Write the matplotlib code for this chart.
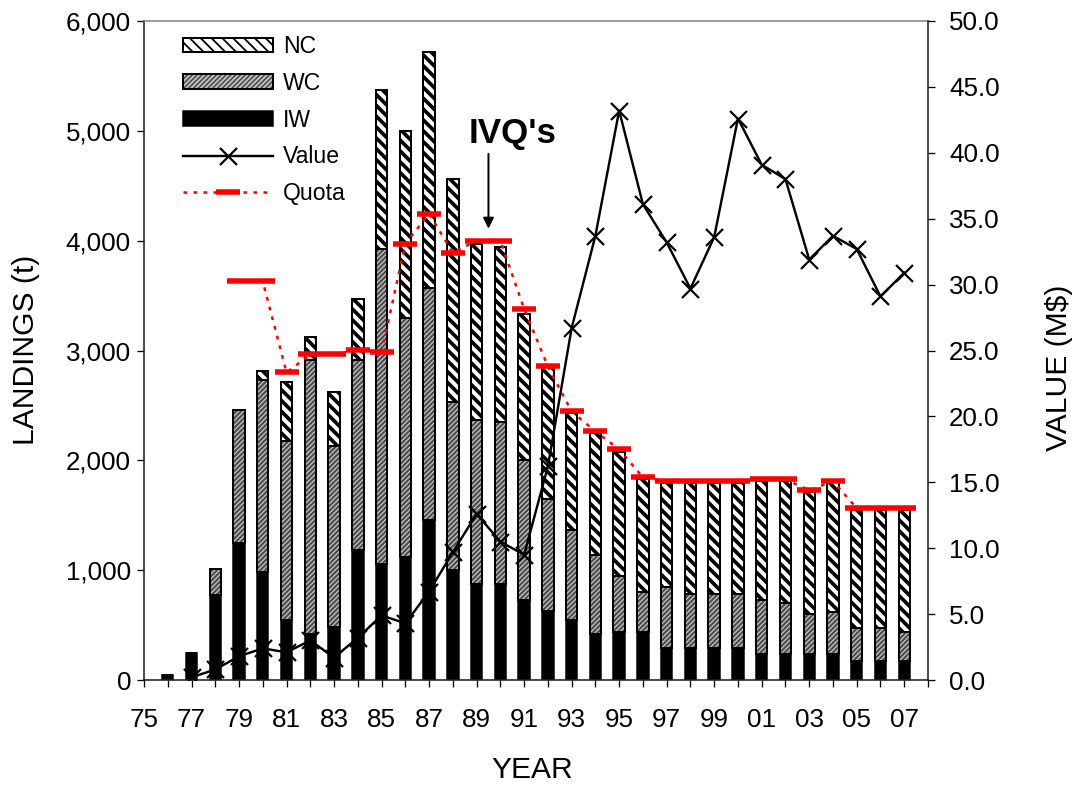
import matplotlib
matplotlib.use("Agg")
import matplotlib.pyplot as plt
from matplotlib.legend_handler import HandlerTuple
from matplotlib.ticker import FuncFormatter
import numpy as np

DPI = 130


def pt(px):
    # pixel size -> points at this dpi
    return px * 72.0 / DPI


plt.rcParams['font.family'] = ['Liberation Sans', 'DejaVu Sans']

# landings by fishery (t), 1976-2007
years = np.arange(76, 108)
iw = [45, 250, 770, 1245, 980, 545, 420, 480, 1180, 1060, 1120, 1455, 1000, 873, 873, 727,
      627, 545, 418, 436, 436, 291, 291, 291, 291, 236, 236, 236, 236, 173, 173, 173]
wc = [0, 0, 240, 1215, 1747, 1635, 2490, 1650, 1730, 2865, 2180, 2115, 1535, 1497, 1472, 1273,
      1018, 819, 718, 509, 364, 554, 491, 491, 491, 491, 464, 364, 382, 300, 300, 263]
nc = [0, 0, 0, 0, 83, 530, 210, 490, 560, 1445, 1700, 2150, 2025, 1600, 1600, 1335,
      1215, 1066, 1109, 1128, 1027, 945, 1008, 1008, 1008, 1083, 1110, 1110, 1182, 1072, 1072, 1109]

# quota (t), 1979-2007
quota_years = np.arange(79, 108)
quota = [3630, 3630, 2800, 2964, 2964, 3009, 2982, 3973, 4245, 3890, 4000, 4000, 3380, 2855, 2445,
         2264, 2100, 1845, 1810, 1810, 1810, 1810, 1827, 1827, 1727, 1810, 1564, 1564, 1564]

# value (M$), 1977-2007
value_years = np.arange(77, 108)
value = [0.2, 0.8, 1.8, 2.4, 2.1, 3.0, 1.7, 3.2, 4.9, 4.3, 6.7, 9.7, 12.6, 10.5, 9.5, 16.2,
         26.7, 33.7, 43.2, 36.1, 33.2, 29.7, 33.6, 42.6, 39.1, 38.0, 31.9, 33.7, 32.7, 29.1, 30.9]

fig = plt.figure(figsize=(1078 / DPI, 789 / DPI), dpi=DPI)
ax1 = fig.add_axes([144 / 1078, 1 - 680 / 789, (928 - 144) / 1078, (680 - 21) / 789])
ax2 = ax1.twinx()

w = 0.48
iw_a = np.array(iw)
wc_a = np.array(wc)
nc_bottom = iw_a + wc_a

b_iw = ax1.bar(years, iw, w, color='black', edgecolor='black', linewidth=pt(1.5), zorder=2)
with plt.rc_context({'hatch.color': '#c4c4c4', 'hatch.linewidth': pt(1.3)}):
    b_wc = ax1.bar(years, wc, w, bottom=iw, color='#4a4a4a', linewidth=0,
                   hatch='/' * 9, zorder=2)
b_wc_edge = ax1.bar(years, wc, w, bottom=iw, fill=False, edgecolor='black',
                    linewidth=pt(2), zorder=2)
with plt.rc_context({'hatch.linewidth': pt(3.7)}):
    b_nc = ax1.bar(years, nc, w, bottom=nc_bottom, color='white', edgecolor='black',
                   linewidth=pt(2), hatch='\\' * 4, zorder=2)

l_quota, = ax1.plot(quota_years, quota, color='red', lw=pt(2.5), ls=(0, (1.5, 2.5)),
                    marker='_', ms=pt(24), mew=pt(5.5), zorder=4)
l_value, = ax2.plot(value_years, value, color='black', lw=pt(2.4), marker='x',
                    ms=pt(17), mew=pt(2.2), zorder=5)

ax1.set_xlim(75, 108)
ax1.set_ylim(0, 6000)
ax2.set_ylim(0, 50)

xt = np.arange(75, 109)
ax1.set_xticks(xt)
ax1.set_xticklabels(['%02d' % (t % 100) if (t - 75) % 2 == 0 and t <= 107 else '' for t in xt])
ax1.set_yticks(np.arange(0, 6001, 1000))
ax1.yaxis.set_major_formatter(FuncFormatter(lambda v, p: '{:,.0f}'.format(v)))
ax2.set_yticks(np.arange(0, 50.1, 5))
ax2.yaxis.set_major_formatter(FuncFormatter(lambda v, p: '%.1f' % v))

fs_tick = pt(26)
ax1.tick_params(axis='x', direction='out', length=pt(7), width=pt(1.3), labelsize=fs_tick, pad=pt(21))
ax1.tick_params(axis='y', direction='out', length=pt(7), width=pt(1.3), labelsize=fs_tick, pad=pt(6))
ax2.tick_params(axis='y', direction='out', length=pt(7), width=pt(1.3), labelsize=fs_tick, pad=pt(14))

for s in ['left', 'bottom']:
    ax1.spines[s].set_linewidth(pt(1.6))
    ax1.spines[s].set_color('#222222')
ax1.spines['top'].set_color('#888888')
ax1.spines['top'].set_linewidth(pt(1.6))
ax1.spines['right'].set_visible(False)
for s in ['left', 'bottom', 'top']:
    ax2.spines[s].set_visible(False)
ax2.spines['right'].set_linewidth(pt(1.6))
ax2.spines['right'].set_color('#222222')

fs_lab = pt(30)
fig.text(26 / 1078, 1 - 350 / 789, 'LANDINGS (t)', rotation=90, ha='center', va='center', fontsize=fs_lab)
fig.text(1059 / 1078, 1 - 368 / 789, 'VALUE (M$)', rotation=90, ha='center', va='center', fontsize=fs_lab)
fig.text(532 / 1078, 1 - 770 / 789, 'YEAR', ha='center', va='center', fontsize=fs_lab)

ax1.text(90.5, 4973, "IVQ's", ha='center', va='center', fontsize=pt(35), fontweight='bold')
ax1.annotate('', xy=(89.5, 4109), xytext=(89.5, 4790),
             arrowprops=dict(arrowstyle='-|>', color='black', lw=pt(2),
                             mutation_scale=pt(22), shrinkA=0, shrinkB=0))

ax2.legend([b_nc, (b_wc, b_wc_edge), b_iw, l_value, l_quota],
           ['NC', 'WC', 'IW', 'Value', 'Quota'],
           handler_map={tuple: HandlerTuple(ndivide=1, pad=0)},
           loc='upper left', bbox_to_anchor=(183 / 1078, 1 - 35 / 789),
           bbox_transform=fig.transFigure, frameon=False, fontsize=pt(23),
           handlelength=3.9, handleheight=0.6, handletextpad=0.45,
           labelspacing=0.6, borderpad=0, borderaxespad=0)

fig.savefig('out.png', dpi=DPI)
